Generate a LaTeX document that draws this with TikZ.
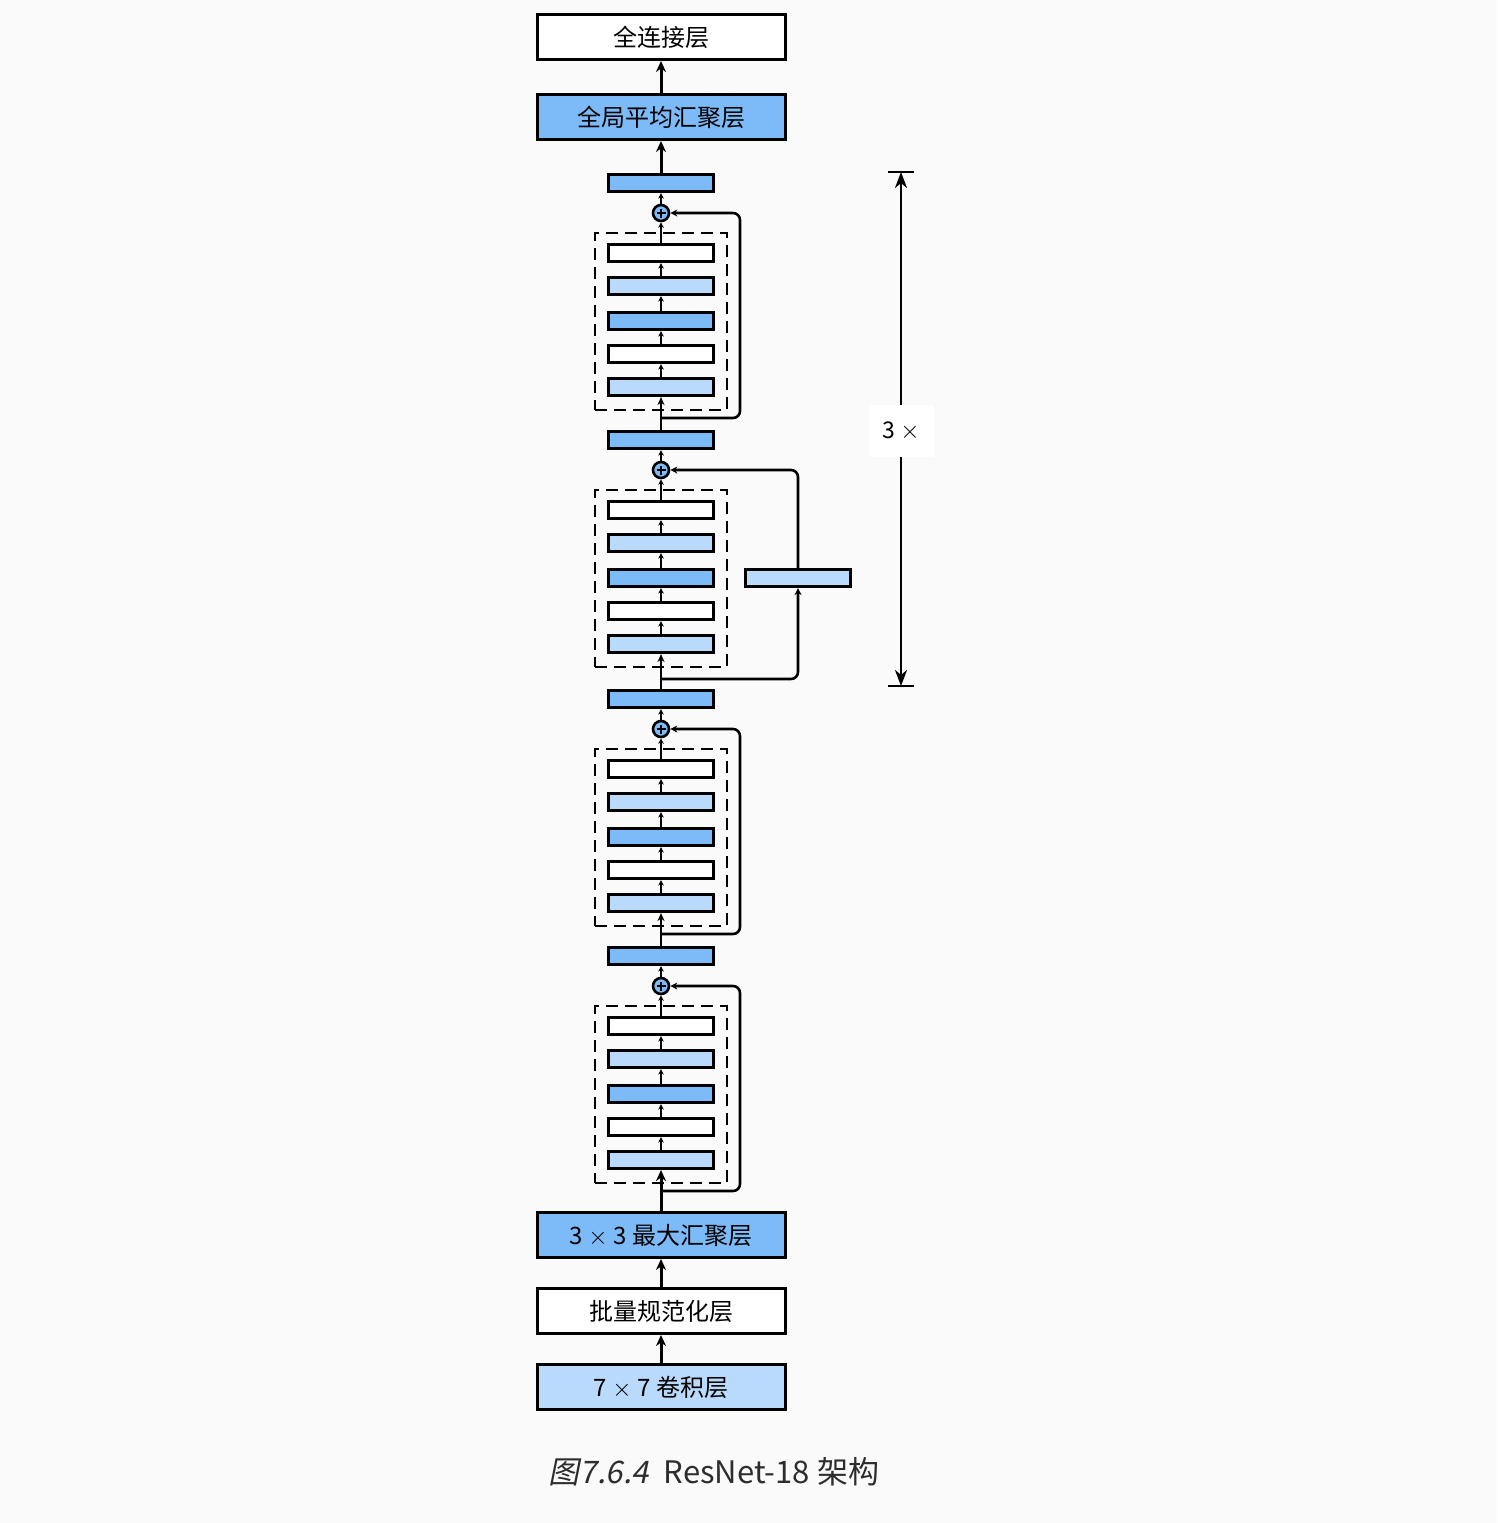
\documentclass[tikz,border=0pt]{standalone}
\usepackage{fontspec}
\setmainfont{Noto Sans CJK SC}
\newfontfamily\capit[FakeSlant=0.2]{Noto Sans CJK SC}
\usetikzlibrary{arrows.meta}
\definecolor{bgc}{RGB}{250,250,250}
\definecolor{midblue}{RGB}{124,186,248}
\definecolor{lightblue}{RGB}{186,218,252}
\definecolor{captc}{RGB}{45,45,45}
\begin{document}
\begin{tikzpicture}[x=1pt,y=-1pt,
  bigbox/.style={draw, line width=3pt, minimum width=248pt, minimum height=45pt, inner sep=0pt, font=\fontsize{24}{27}\selectfont},
  smallbox/.style={draw, line width=2.6pt, minimum width=105pt, minimum height=17.5pt, inner sep=0pt},
  dashbox/.style={draw, line width=2.6pt, dash pattern=on 12pt off 7pt, minimum width=132pt, minimum height=177pt, inner sep=0pt},
  addc/.style={circle, draw, line width=2.6pt, fill=midblue, minimum size=16pt, inner sep=0pt},
  bigarrow/.style={line width=3pt, -{Stealth[length=11pt,width=10pt]}},
  midarrow/.style={line width=2.6pt, -{Stealth[length=8pt,width=7pt]}},
  tinyarrow/.style={line width=1.6pt, -{Stealth[length=5.5pt,width=5.5pt]}},
  skipline/.style={line width=2.6pt, rounded corners=7pt, -{Stealth[length=7pt,width=7pt]}},
  dimarrow/.style={line width=2.4pt, -{Stealth[length=16pt,width=12pt,inset=5pt]}},
]
\useasboundingbox[fill=bgc] (0,0) rectangle (1497,1523);

% big boxes
\node[bigbox, fill=white] (fc) at (661,37) {全连接层};
\node[bigbox, fill=midblue] (gap) at (661,117) {全局平均汇聚层};
\node[bigbox, fill=midblue] (mp) at (661,1235) {3 $\times$ 3\hspace{6pt}最大汇聚层};
\node[bigbox, fill=white] (bn) at (661,1311) {批量规范化层};
\node[bigbox, fill=lightblue] (cv) at (661,1387) {7 $\times$ 7\hspace{6pt}卷积层};

% residual blocks
\foreach \i/\c/\s in {1/213/205, 2/470/209, 3/729/205, 4/986/205} {
  \node[smallbox, fill=midblue] (o\i) at (661,\c-30) {};
  \node[addc] (p\i) at (661,\c) {};
  \draw[line width=1.4pt] ([xshift=-4.5pt]p\i.center) -- ([xshift=4.5pt]p\i.center)
                          ([yshift=-4.5pt]p\i.center) -- ([yshift=4.5pt]p\i.center);
  \node[dashbox] (d\i) at (661,\c+108.5) {};
  \node[smallbox, fill=white] (r\i a) at (661,\c+40) {};
  \node[smallbox, fill=lightblue] (r\i b) at (661,\c+73) {};
  \node[smallbox, fill=midblue] (r\i c) at (661,\c+108) {};
  \node[smallbox, fill=white] (r\i d) at (661,\c+141) {};
  \node[smallbox, fill=lightblue] (r\i e) at (661,\c+174) {};
  \draw[tinyarrow] (r\i e.north) -- (r\i d.south);
  \draw[tinyarrow] (r\i d.north) -- (r\i c.south);
  \draw[tinyarrow] (r\i c.north) -- (r\i b.south);
  \draw[tinyarrow] (r\i b.north) -- (r\i a.south);
  \draw[tinyarrow] (r\i a.north) -- (p\i.south);
  \draw[tinyarrow] (p\i.north) -- (o\i.south);
  \coordinate (s\i) at (661,\c+\s);
}

% inputs into blocks
\draw[midarrow] (o2.north) -- (r1e.south);
\draw[midarrow] (o3.north) -- (r2e.south);
\draw[midarrow] (o4.north) -- (r3e.south);
\draw[bigarrow] (mp.north) -- (r4e.south);

% skip connections
\draw[skipline] (s1) -- (740,418) -- (740,213) -- (p1.east);
\draw[skipline] (s3) -- (740,934) -- (740,729) -- (p3.east);
\draw[skipline] (s4) -- (740,1191) -- (740,986) -- (p4.east);
\node[smallbox, fill=lightblue] (side) at (798,578) {};
\draw[skipline] (s2) -- (798,679) -- (side.south);
\draw[skipline] (side.north) -- (798,470) -- (p2.east);

% stem and head arrows
\draw[bigarrow] (cv.north) -- (bn.south);
\draw[bigarrow] (bn.north) -- (mp.south);
\draw[bigarrow] (o1.north) -- (gap.south);
\draw[bigarrow] (gap.north) -- (fc.south);

% 3x dimension
\node[fill=white, minimum width=65pt, minimum height=52pt, inner sep=0pt, font=\fontsize{23}{25}\selectfont] (lab) at (901,431) {3 $\times$};
\coordinate (dt) at (901,172);
\coordinate (db) at (901,686);
\draw[dimarrow] (lab.north) -- (dt);
\draw[dimarrow] (lab.south) -- (db);
\draw[line width=2.4pt] ([xshift=-13pt]dt) -- ([xshift=13pt]dt);
\draw[line width=2.4pt] ([xshift=-13pt]db) -- ([xshift=13pt]db);

% caption
\node[text=captc, font=\fontsize{31}{35}\selectfont] (cap) at (714,1472) {{\capit 图7.6.4}\hspace{15pt}ResNet-18 架构};
\end{tikzpicture}
\end{document}
